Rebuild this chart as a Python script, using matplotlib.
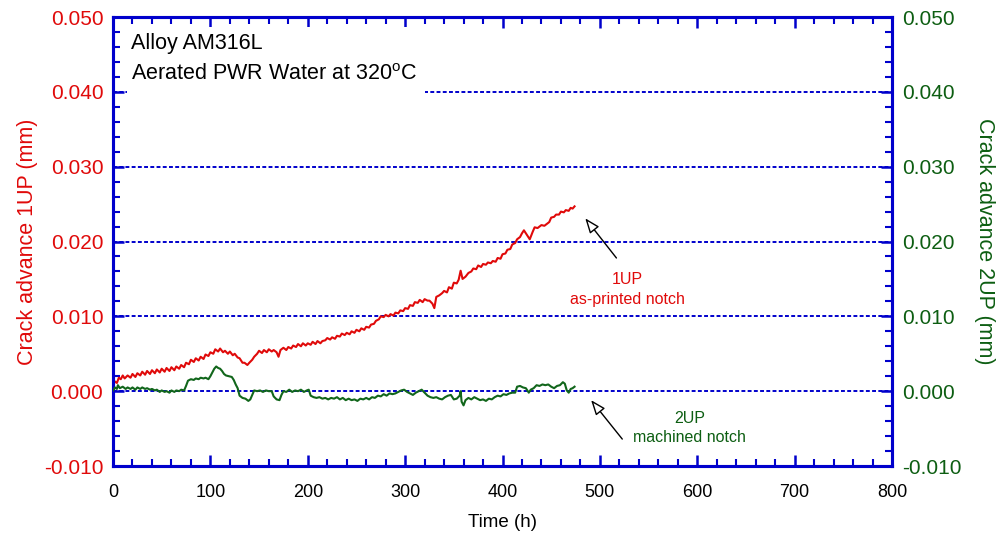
import matplotlib
matplotlib.use("Agg")
import matplotlib.pyplot as plt
from matplotlib.ticker import MultipleLocator, FormatStrFormatter
from matplotlib.patches import Rectangle

plt.rcParams['font.family'] = ['Liberation Sans', 'DejaVu Sans']
plt.rcParams['mathtext.fontset'] = 'custom'
plt.rcParams['mathtext.rm'] = 'Liberation Sans'

# Crack advance of specimen 1UP (as-printed notch), time in h, advance in mm
t_1up = [0, 2, 4, 6, 8, 10, 12, 15, 18, 20, 23, 25, 28, 30, 33, 35, 38, 40, 43, 45,
         48, 50, 53, 55, 58, 60, 63, 65, 68, 70, 73, 75, 78, 80, 83, 85, 88, 90, 93, 95,
         98, 100, 103, 105, 108, 110, 113, 115, 118, 120, 123, 125, 128, 130, 133, 135,
         138, 140, 143, 145, 148, 150, 153, 155, 158, 160, 163, 165, 168, 170, 172, 175,
         178, 180, 183, 185, 188, 190, 193, 195, 198, 200, 203, 205, 208, 210, 213, 215,
         218, 220, 223, 225, 228, 230, 233, 235, 238, 240, 243, 245, 248, 250, 253, 255,
         258, 260, 263, 265, 268, 270, 273, 275, 278, 280, 283, 285, 288, 290, 293, 295,
         298, 300, 303, 305, 308, 310, 313, 315, 318, 320, 323, 325, 328, 330, 332, 335,
         338, 340, 343, 345, 348, 350, 353, 355, 357, 359, 362, 365, 368, 370, 373, 375,
         378, 380, 383, 385, 388, 390, 393, 395, 398, 400, 403, 405, 408, 410, 413, 415,
         418, 420, 422, 425, 428, 431, 433, 436, 440, 443, 445, 448, 450, 453, 455, 458,
         460, 463, 465, 468, 470, 472, 474]
a_1up = [.0008, .0013, .0011, .0018, .0016, .0021, .0017, .0021, .0018, .0023, .0019, .0024,
         .0021, .0026, .0022, .0027, .0023, .0028, .0024, .0029, .0025, .0030, .0026, .0031,
         .0027, .0032, .0028, .0033, .0030, .0035, .0032, .0038, .0036, .0042, .0039, .0044,
         .0041, .0046, .0043, .0049, .0047, .0052, .0050, .0056, .0053, .0057, .0052, .0054,
         .0050, .0053, .0048, .0050, .0045, .0044, .0038, .0038, .0035, .0038, .0042, .0046,
         .0050, .0054, .0051, .0055, .0052, .0056, .0053, .0055, .0052, .0046, .0055, .0058,
         .0055, .0059, .0057, .0061, .0059, .0063, .0060, .0064, .0061, .0064, .0062, .0066,
         .0063, .0067, .0064, .0067, .0068, .0071, .0069, .0072, .0070, .0074, .0073, .0077,
         .0075, .0078, .0076, .0080, .0078, .0082, .0080, .0084, .0082, .0086, .0085, .0089,
         .0090, .0094, .0096, .0100, .0099, .0102, .0100, .0103, .0101, .0105, .0104, .0108,
         .0107, .0111, .0110, .0115, .0114, .0119, .0118, .0122, .0119, .0123, .0121, .0121,
         .0117, .0111, .0126, .0128, .0131, .0134, .0132, .0139, .0137, .0145, .0144, .0149,
         .0161, .0150, .0153, .0158, .0160, .0164, .0163, .0168, .0166, .0170, .0169, .0172,
         .0171, .0174, .0173, .0178, .0177, .0183, .0184, .0189, .0190, .0196, .0198, .0203,
         .0206, .0211, .0215, .0209, .0203, .0213, .0219, .0218, .0222, .0221, .0223, .0226,
         .0232, .0233, .0236, .0236, .0240, .0239, .0242, .0241, .0245, .0244, .0247]

# Crack advance of specimen 2UP (machined notch)
t_2up = [0, 2, 4, 5, 7, 10, 13, 15, 18, 20, 23, 25, 28, 30, 33, 35, 38, 40, 43, 45, 48, 50,
         53, 55, 58, 60, 63, 65, 68, 70, 73, 75, 77, 80, 83, 85, 88, 90, 93, 95, 98, 100,
         102, 104, 106, 108, 110, 112, 114, 116, 119, 122, 124, 126, 128, 130, 133, 136,
         139, 141, 143, 145, 148, 151, 154, 157, 160, 163, 165, 168, 171, 173, 175, 178,
         181, 184, 187, 190, 193, 196, 199, 201, 203, 206, 209, 212, 215, 218, 221, 224,
         227, 230, 233, 236, 239, 242, 245, 248, 251, 254, 257, 260, 263, 266, 269, 272,
         275, 278, 281, 284, 287, 290, 293, 296, 299, 302, 305, 308, 311, 314, 317, 320,
         323, 326, 329, 332, 335, 338, 341, 344, 347, 350, 353, 356, 357, 358, 360, 362,
         365, 368, 371, 374, 377, 380, 383, 386, 389, 392, 395, 398, 401, 404, 407, 410,
         413, 415, 418, 421, 424, 427, 429, 432, 435, 438, 441, 444, 447, 450, 453, 456,
         459, 462, 464, 466, 468, 470, 472, 474]
a_2up = [.0001, .0005, .0003, .0008, .0004, .0006, .0003, .0005, .0003, .0005, .0002, .0005,
         .0003, .0005, .0003, .0004, .0002, .0003, .0001, .0002, -.0001, .0001, -.0001, .0000,
         -.0002, .0001, -.0001, .0001, .0000, .0002, .0001, .0007, .0014, .0016, .0015, .0017,
         .0016, .0018, .0017, .0018, .0016, .0020, .0025, .0030, .0033, .0031, .0030, .0027,
         .0023, .0021, .0020, .0019, .0015, .0009, .0004, -.0006, -.0009, -.0010, -.0013, -.0011,
         -.0005, .0001, .0000, .0001, -.0001, .0001, .0000, .0000, -.0007, -.0011, -.0012, -.0005,
         .0000, -.0001, .0002, -.0001, .0001, .0000, .0002, -.0001, .0001, .0002, -.0006, -.0008,
         -.0009, -.0008, -.0010, -.0009, -.0011, -.0009, -.0010, -.0008, -.0011, -.0009, -.0012,
         -.0010, -.0012, -.0011, -.0013, -.0010, -.0011, -.0009, -.0011, -.0008, -.0009, -.0006,
         -.0007, -.0004, -.0006, -.0003, -.0004, -.0003, -.0001, .0001, .0002, -.0001, -.0003,
         -.0005, -.0002, .0000, .0002, -.0002, -.0006, -.0008, -.0009, -.0008, -.0010, -.0011,
         -.0008, -.0006, -.0005, -.0011, -.0010, -.0006, .0000, -.0014, -.0019, -.0012, -.0009,
         -.0011, -.0008, -.0010, -.0012, -.0011, -.0013, -.0010, -.0011, -.0008, -.0006, -.0007,
         -.0004, -.0005, -.0003, -.0002, -.0002, .0006, .0007, .0005, .0004, -.0002, .0002,
         .0004, .0008, .0007, .0009, .0008, .0009, .0006, .0004, .0007, .0008, .0012, .0010,
         .0001, -.0002, .0003, .0004, .0006]

RED = '#e00a0a'
GREEN = '#0d5e12'
GREEN_LINE = '#11661b'
BLUE = '#0000cc'

fig = plt.figure(figsize=(10, 5.33), dpi=100)
ax = fig.add_axes([0.113, 0.1257, 0.779, 0.8423])
ax2 = ax.twinx()

ax.set_xlim(0, 800)
ax.set_ylim(-0.010, 0.050)
ax2.set_ylim(-0.010, 0.050)

# dotted horizontal grid
for yv in [0.0, 0.01, 0.02, 0.03, 0.04]:
    ax.axhline(yv, color=BLUE, lw=1.4, ls=(0, (2.0, 1.2)), zorder=1)

# white panel behind the title lines
ax.add_patch(Rectangle((0.018, 0.826), 0.383, 0.152, transform=ax.transAxes,
                       facecolor='white', edgecolor='none', zorder=2))
ax.text(0.023, 0.942, 'Alloy AM316L', transform=ax.transAxes, fontsize=15.5,
        va='center', ha='left', zorder=3)
ax.text(0.023, 0.872, r'Aerated PWR Water at 320$^{\mathrm{o}}$C', transform=ax.transAxes,
        fontsize=15.5, va='center', ha='left', zorder=3)

ax.plot(t_1up, a_1up, color=RED, lw=1.5, zorder=4)
ax2.plot(t_2up, a_2up, color=GREEN_LINE, lw=1.5, zorder=4)

# annotations with open arrow heads
arrow_kw = dict(arrowstyle='-|>,head_length=0.9,head_width=0.35', edgecolor='black',
                facecolor='white', lw=1.0, shrinkA=0, shrinkB=0)
ax.annotate('', xy=(485, 0.0231), xytext=(517, 0.0178), arrowprops=arrow_kw, zorder=5)
ax.annotate('', xy=(491, -0.0012), xytext=(523, -0.0064), arrowprops=arrow_kw, zorder=5)
ax.text(528, 0.0149, '1UP', color=RED, fontsize=11.5, ha='center', va='center')
ax.text(528, 0.0123, 'as-printed notch', color=RED, fontsize=11.5, ha='center', va='center')
ax.text(592, -0.0036, '2UP', color=GREEN, fontsize=11.5, ha='center', va='center')
ax.text(592, -0.0062, 'machined notch', color=GREEN, fontsize=11.5, ha='center', va='center')

# axes styling
for a in (ax, ax2):
    for s in a.spines.values():
        s.set_color(BLUE)
        s.set_linewidth(2.2)

ax.xaxis.set_major_locator(MultipleLocator(100))
ax.xaxis.set_minor_locator(MultipleLocator(20))
for a in (ax, ax2):
    a.yaxis.set_major_locator(MultipleLocator(0.01))
    a.yaxis.set_minor_locator(MultipleLocator(0.002))
    a.yaxis.set_major_formatter(FormatStrFormatter('%.3f'))

ax.tick_params(axis='x', which='both', direction='in', top=True, bottom=True,
               color=BLUE, labelsize=13, pad=13)
ax.tick_params(axis='x', which='major', length=8, width=1.8)
ax.tick_params(axis='x', which='minor', length=5, width=1.5)
ax.tick_params(axis='y', which='both', direction='in', left=True, right=False,
               color=BLUE, labelsize=15, labelcolor=RED, pad=7)
ax.tick_params(axis='y', which='major', length=8, width=1.8)
ax.tick_params(axis='y', which='minor', length=5, width=1.5)
ax2.tick_params(axis='y', which='both', direction='in', right=True, left=False,
                color=BLUE, labelsize=15, labelcolor=GREEN, pad=7)
ax2.tick_params(axis='y', which='major', length=8, width=1.8)
ax2.tick_params(axis='y', which='minor', length=5, width=1.5)

ax.set_xlabel('Time (h)', fontsize=13.5, labelpad=9)
ax.set_ylabel('Crack advance 1UP (mm)', fontsize=15.5, color=RED, labelpad=4)
ax2.set_ylabel('Crack advance 2UP (mm)', fontsize=15.5, color=GREEN, rotation=270,
               labelpad=24)

fig.savefig('out.png', dpi=100)
